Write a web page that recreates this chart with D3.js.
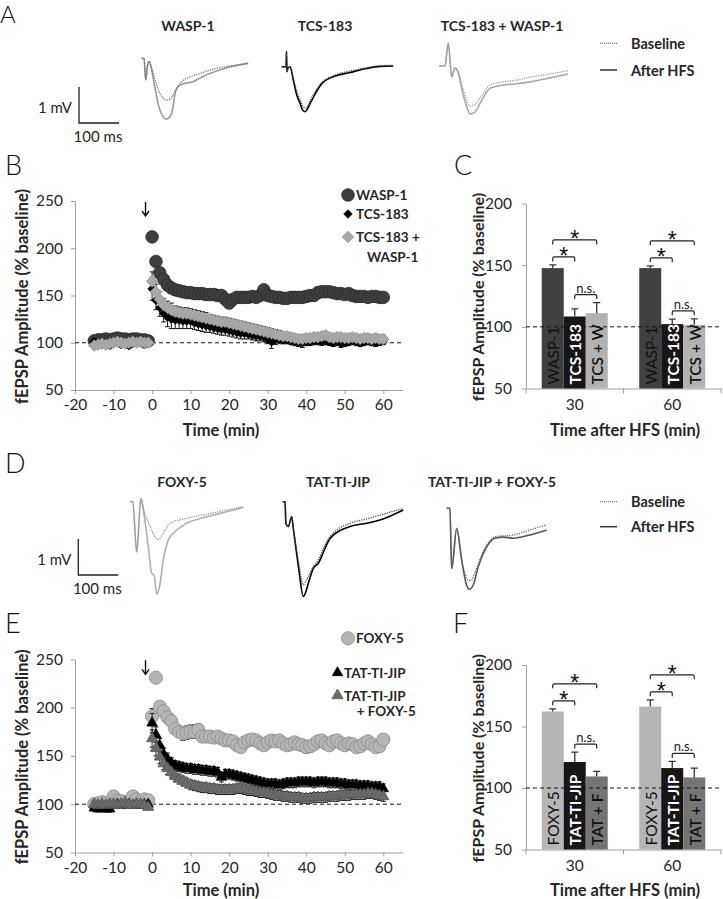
<!DOCTYPE html>
<html><head><meta charset="utf-8">
<script src="https://cdn.jsdelivr.net/npm/d3@7"></script>
<style>
body{margin:0;background:#fff;}
svg{display:block;font-family:Lato,"Open Sans",sans-serif;}
</style></head><body>
<svg id="fig" width="723" height="899"></svg>
<script>
// ---------------- DATA ----------------
// Field-potential traces: [time (ms), voltage (mV)] relative to trace start
const waspBaselineTrace=[[0,0],[5.75,0],[10,-0.6],[14.5,-0.21],[19,-0.09],[23,-0.2],[32,-0.55],[42,-0.9],[52,-1.08],[62,-1.16],[72,-1.13],[82,-0.95],[92,-0.75],[100,-0.65],[120,-0.52],[146,-0.42],[187,-0.28],[230,-0.2],[266,-0.14]];
const waspHfsTrace=[[0,0],[5.75,0],[10,-0.6],[14.5,-0.21],[19,-0.09],[23,-0.22],[32,-0.75],[42,-1.3],[52,-1.6],[62,-1.69],[70,-1.63],[78,-1.38],[83,-1.0],[90,-0.8],[100,-0.72],[112,-0.69],[126,-0.66],[146,-0.55],[166,-0.44],[187,-0.35],[220,-0.24],[266,-0.14]];
const tcsBaselineTrace=[[0,0],[11,0],[12,0.42],[13,-0.14],[15,-0.05],[21,0],[29,-0.33],[38,-0.7],[46,-0.92],[53,-1.1],[60,-1.15],[66,-1.08],[72,-0.93],[87,-0.63],[100,-0.44],[129,-0.25],[171,-0.12],[212,-0.03],[246,0.03],[279,0.04]];
const tcsHfsTrace=[[0,0],[11,0],[12,0.42],[13,-0.14],[15,-0.05],[21,0],[29,-0.37],[38,-0.8],[46,-1.02],[52,-1.2],[58,-1.25],[64,-1.18],[72,-1.0],[87,-0.69],[100,-0.47],[129,-0.28],[171,-0.16],[212,-0.05],[246,0.01],[279,0.02]];
const twBaselineTrace=[[0,0],[14,0],[22.5,0.63],[31,-0.3],[39,-0.06],[47,-0.15],[57,-0.55],[67,-0.9],[77,-1.11],[89,-1.07],[102,-0.89],[127,-0.53],[160,-0.44],[189,-0.4],[227,-0.31],[277,-0.22],[322,-0.13]];
const twHfsTrace=[[0,0],[14,0],[22.5,0.63],[31,-0.3],[39,-0.06],[47,-0.17],[57,-0.67],[67,-1.08],[77,-1.33],[89,-1.28],[102,-1.03],[127,-0.62],[160,-0.53],[189,-0.5],[227,-0.44],[277,-0.33],[322,-0.22]];
const foxyBaselineTrace=[[0,0],[6.75,0],[16.75,-1.39],[27.5,0.09],[33.25,-0.18],[50,-0.69],[62.5,-0.97],[70.75,-1.05],[83.25,-0.88],[100,-0.6],[141.75,-0.46],[191.75,-0.35],[241.75,-0.23],[283.25,-0.14]];
const foxyHfsTrace=[[0,0],[6.75,0],[16.75,-1.39],[27.5,0.09],[33.25,-0.23],[45.75,-1.25],[54.25,-1.99],[60,-2.04],[66.75,-2.56],[73.25,-2.4],[83.25,-1.62],[95.75,-1.06],[108.25,-0.88],[141.75,-0.6],[191.75,-0.42],[241.75,-0.28],[283.25,-0.16]];
const tatBaselineTrace=[[0,0],[5.8,0],[8,-0.6],[14,-0.69],[22.5,-0.42],[26.5,-0.74],[40,-1.7],[51.5,-2.31],[58,-2.2],[64,-2.08],[76.5,-1.81],[89,-1.62],[105.75,-1.2],[118.25,-0.97],[168.25,-0.6],[210,-0.48],[243.25,-0.37],[301.5,-0.19]];
const tatHfsTrace=[[0,0],[5.8,0],[8,-0.6],[14,-0.69],[22.5,-0.42],[26.5,-0.74],[40,-1.85],[51.5,-2.63],[58,-2.5],[64,-2.27],[76.5,-1.85],[89,-1.71],[105.75,-1.3],[118.25,-1.02],[168.25,-0.69],[210,-0.6],[243.25,-0.51],[301.5,-0.23]];
const tfBaselineTrace=[[0,0],[8,0],[12.5,-1.67],[25,-0.56],[37.5,-1.44],[48.25,-1.89],[54,-2.0],[62,-2.0],[70,-1.8],[79,-1.53],[100,-1.02],[120.75,-0.79],[166.5,-0.74],[208.25,-0.6],[250,-0.46]];
const tfHfsTrace=[[0,0],[8,0],[12.5,-1.67],[25,-0.56],[37.5,-1.44],[48.25,-2.08],[56.5,-2.25],[66.5,-2.13],[79,-1.62],[100,-1.07],[120.75,-0.83],[141.5,-0.8],[166.5,-0.83],[208.25,-0.74],[250,-0.6]];

// Time axes (min)
const tBase=d3.range(-15,0);
const tPost=d3.range(0,61);
const timeTicks=[-20,-10,0,10,20,30,40,50,60];
const ampTicks=[50,100,150,200,250];
const barTicks=[50,100,150,200];
const hfsTime=-1.7;

// Panel B (% baseline)
const waspBase=[102,103,103,104,103,104,105,104,104,103,104,104,103,103,102];
const waspPost=[212,186,174,167,161,158,156,155,154,153, 153,152,152,152,151,151,151,150,150,146, 142,146,148,148,148,148,149,148,150,156, 150,149,148,148,147,147,148,148,148,148, 149,150,150,153,154,154,154,153,152,152, 151,152,150,149,149,149,148,149,149,148, 148];
const tcsBase=[101,99,98,100,97,99,101,98,100,97,99,101,100,98,100];
const tcsBaseErr=[3,3,3,3,3,3,3,3,3,3,3,3,3,3,3];
const tcsPost=[157,145,137,131,127,125,124,124,123,123, 123,121,120,119,118,117,116,115,114,114, 113,112,111,110,110,109,108,107,107,106, 104,101,103,104,103,103,102,101,100,100, 101,101,102,102,101,102,101,100,101,99, 100,101,102,101,100,101,102,101,100,101, 102];
const tcsErr=[12,10,9,9,10,10,9,9,8,8, 8,7,7,7,7,6,6,6,6,6, 6,6,6,6,6,5,5,5,5,5, 5,7,5,5,4,4,4,4,4,5, 4,4,4,4,4,4,4,4,4,4, 4,4,4,4,4,4,4,4,4,4, 4];
const twBase=[97,98,99,98,99,100,101,100,99,100,101,100,101,100,100];
const twBaseErr=[3,3,3,3,3,3,3,3,3,3,3,3,3,3,3];
const twPost=[165,154,146,140,137,135,133,132,131,131, 130,129,128,127,126,125,124,123,122,122, 121,120,119,118,117,116,115,114,113,112, 111,110,109,108,107,107,106,105,104,104, 105,105,106,106,107,108,106,105,106,106, 105,105,106,105,104,105,105,104,105,104, 104];
const twErr=[10,8,8,7,7,7,6,6,6,6, 6,6,6,6,6,5,5,5,5,5, 5,5,5,5,5,5,5,5,5,5, 5,5,5,5,4,4,4,4,4,4, 4,4,4,4,4,4,4,4,4,4, 4,4,4,4,4,4,4,4,4,4, 4];

// Panel C
const barCats=["30","60"];
const cNames=["WASP-1","TCS-183","TCS + W"];
const cWaspMean=[147.6,147.6], cWaspErr=[2.6,1.9];
const cTcsMean=[108.4,102.2], cTcsErr=[6.2,4.0];
const cTwMean=[111.1,101.6], cTwErr=[8.6,4.9];
const cSig=[["30",0,1,"*"],["30",0,2,"*"],["30",1,2,"n.s."],["60",0,1,"*"],["60",0,2,"*"],["60",1,2,"n.s."]];

// Panel E
const foxyBase=[100,101,102,101,100,108,104,103,102,103,108,105,103,105,104];
const foxyBaseErr=[4,4,4,4,4,4,4,4,4,4,4,4,4,4,4];
const foxyPost=[191,231,201,196,190,186,178,175,173,174, 175,175,177,170,170,170,169,170,168,166, 166,165,161,159,164,166,167,166,163,161, 164,166,165,166,163,161,162,164,162,161, 159,160,162,165,166,163,161,165,166,163, 161,163,162,159,160,163,165,162,159,160, 167];
const foxyErr=[8,5,5,5,5,5,6,6,7,7, 7,7,6,6,5,5,5,5,6,5, 5,5,5,5,5,5,5,5,5,5, 5,5,5,5,5,5,5,5,5,6, 6,6,5,5,5,5,5,5,5,5, 5,5,5,5,5,5,5,5,5,5, 5];
const tatBase=[96,95,96,95,95,99,100,99,100,100,99,100,99,100,100];
const tatBaseErr=[3,3,3,3,3,3,3,3,3,3,3,3,3,3,3];
const tatPost=[184,172,161,152,147,143,140,139,138,137, 137,136,136,135,135,134,134,133,128,131, 131,130,129,128,127,126,125,124,123,122, 121,121,121,120,121,122,122,122,123,123, 123,123,122,123,123,123,122,122,122,121, 121,120,120,120,119,119,119,118,118,118, 116];
const tatErr=[10,8,7,6,6,5,5,5,5,5, 5,5,5,5,5,5,5,5,5,5, 5,5,5,5,5,5,5,5,5,5, 5,5,5,5,5,5,5,5,5,5, 5,5,5,5,5,5,5,5,5,5, 5,5,5,5,5,5,5,5,5,5, 5];
const tfBase=[100,99,100,99,100,100,99,100,101,100,99,100,100,99,97];
const tfBaseErr=[3,3,3,3,3,3,3,3,3,3,3,3,3,3,3];
const tfPost=[168,158,149,142,137,133,129,126,124,122, 120,119,118,117,117,116,116,115,115,115, 115,115,116,116,115,114,114,113,112,112, 111,110,109,109,108,108,107,107,107,106, 106,106,107,107,107,107,108,108,108,109, 109,109,110,110,110,110,111,111,110,109, 108];
const tfErr=[9,8,7,6,6,5,5,5,5,5, 5,5,5,5,5,5,5,5,5,5, 5,5,5,5,5,5,5,5,5,5, 5,5,5,5,5,5,5,5,5,5, 5,5,5,5,5,5,5,5,5,5, 5,5,5,5,5,5,5,5,5,5, 5];

// Panel F
const fNames=["FOXY-5","TAT-TI-JIP","TAT + F"];
const fFoxyMean=[162.2,166.2], fFoxyErr=[2.2,5.5];
const fTatMean=[121.1,116.2], fTatErr=[8.1,5.4];
const fTfMean=[109.4,108.6], fTfErr=[4.1,7.6];
const fSig=[["30",0,1,"*"],["30",0,2,"*"],["30",1,2,"n.s."],["60",0,1,"*"],["60",0,2,"*"],["60",1,2,"n.s."]];

// ---------------- DRAWING ----------------
const svg=d3.select("#fig");
const FONT="Lato, 'Open Sans', sans-serif";
const AXIS="#a0a0a0", TXT="#262626";
const TITLE_SIZE=16.5, TICK_SIZE=15.5;

const defs=svg.append("defs");
function dotPattern(id,bg,dot){
  const p=defs.append("pattern").attr("id",id).attr("patternUnits","userSpaceOnUse").attr("width",3).attr("height",3);
  p.append("rect").attr("width",3).attr("height",3).attr("fill",bg);
  p.append("circle").attr("cx",1).attr("cy",1).attr("r",0.55).attr("fill",dot);
  p.append("circle").attr("cx",2.5).attr("cy",2.5).attr("r",0.4).attr("fill",dot);
}
dotPattern("dotBlack","#0d0d0d","#4a4a4a");
dotPattern("dotLight","#b9b9b9","#8f8f8f");
dotPattern("dotDark","#6e6e6e","#9a9a9a");

// panel letters
[["A",0,23],["B",5,175],["C",454,175],["D",5,473],["E",5,633],["F",453,633]].forEach(([t,x,y])=>{
  svg.append("text").attr("x",x).attr("y",y).text(t).attr("font-size",t==="A"?24:27).attr("font-weight",300).attr("fill","#111").style("font-family",FONT);
});

// ---- traces ----
const msScale=d3.scaleLinear().domain([0,100]).range([0,40]);
const mvScale=d3.scaleLinear().domain([0,-1]).range([0,36]);
const traceLine=d3.line().x(d=>msScale(d[0])).y(d=>mvScale(d[1])).curve(d3.curveMonotoneX);
function trace(ox,oy,data,color,dotted){
  svg.append("path").attr("transform",`translate(${ox},${oy})`).attr("d",traceLine(data))
    .attr("fill","none").attr("stroke",color).attr("stroke-width",dotted?1.3:1.6)
    .attr("stroke-dasharray",dotted?"1.2,1.2":null).attr("stroke-linejoin","round");
}
function traceTitle(x,y,t){svg.append("text").attr("x",x).attr("y",y).attr("text-anchor","middle").attr("dominant-baseline","central")
  .attr("font-size",14).attr("font-weight",700).attr("fill",TXT).text(t);}
function scaleBar(x,yTop){
  const h=mvScale(-1), w=msScale(100);
  svg.append("path").attr("d",`M${x},${yTop}V${yTop+h}H${x+w}`).attr("fill","none").attr("stroke","#222").attr("stroke-width",1.3);
  svg.append("text").attr("x",x-7).attr("y",yTop+h/2+2).attr("text-anchor","end").attr("dominant-baseline","central").attr("font-size",15).attr("fill",TXT).text("1 mV");
  svg.append("text").attr("x",x+w/2-1).attr("y",yTop+h+13).attr("text-anchor","middle").attr("dominant-baseline","central").attr("font-size",15).attr("fill",TXT).text("100 ms");
}
function traceLegend(y1,y2){
  svg.append("line").attr("x1",600).attr("x2",617).attr("y1",y1).attr("y2",y1).attr("stroke","#777").attr("stroke-width",1.2).attr("stroke-dasharray","1,1");
  svg.append("line").attr("x1",600).attr("x2",617).attr("y1",y2).attr("y2",y2).attr("stroke","#333").attr("stroke-width",1.5);
  svg.append("text").attr("x",631).attr("y",y1).attr("dominant-baseline","central").attr("font-size",14.5).attr("font-weight",700).attr("fill",TXT).text("Baseline");
  svg.append("text").attr("x",631).attr("y",y2).attr("dominant-baseline","central").attr("font-size",14.5).attr("font-weight",700).attr("fill",TXT).text("After HFS");
}
// Panel A
traceTitle(188,25,"WASP-1"); traceTitle(325,25,"TCS-183"); traceTitle(502,25,"TCS-183 + WASP-1");
trace(141.7,58.3,waspHfsTrace,"#9a9a9a",false);
trace(141.7,58.3,waspBaselineTrace,"#6f6f6f",true);
trace(281.7,66.7,tcsHfsTrace,"#000",false);
trace(281.7,66.7,tcsBaselineTrace,"#444",true);
trace(439.3,66,twHfsTrace,"#a8a8a8",false);
trace(439.3,66,twBaselineTrace,"#9a9a9a",true);
scaleBar(79,87);
traceLegend(43.3,70);
// Panel D
traceTitle(182,481.7,"FOXY-5"); traceTitle(338,481.7,"TAT-TI-JIP"); traceTitle(492,481.7,"TAT-TI-JIP + FOXY-5");
trace(130,501.7,foxyHfsTrace,"#b0b0b0",false);
trace(130,501.7,foxyBaselineTrace,"#8f8f8f",true);
trace(282.7,501.7,tatHfsTrace,"#000",false);
trace(282.7,501.7,tatBaselineTrace,"#444",true);
trace(446.7,508.3,tfHfsTrace,"#555",false);
trace(446.7,508.3,tfBaselineTrace,"#666",true);
scaleBar(78.3,539);
traceLegend(501.7,526.7);

// ---- markers ----
function markerPath(type,size){
  if(type==="circle") return d3.symbol(d3.symbolCircle,Math.PI*size*size)();
  if(type==="diamond") return `M0,${-size}L${size},0L0,${size}L${-size},0Z`;
  if(type==="triangle"){const s=size*2;return d3.symbol(d3.symbolTriangle,0.433*s*s)();}
}
function styleAxis(g){
  g.selectAll("path,line").attr("stroke",AXIS).attr("stroke-width",1);
  g.selectAll("text").attr("font-size",TICK_SIZE).attr("fill",TXT).style("font-family",FONT);
}

function timePanel(o){
  const x=d3.scaleLinear().domain([-20,65]).range([75,402.6]);
  const y=d3.scaleLinear().domain([50,250]).range([o.yBottom,o.yTop]);
  const g=svg.append("g");
  styleAxis(g.append("g").attr("transform","translate(75,0)").call(d3.axisLeft(y).tickValues(ampTicks).tickSize(4).tickSizeOuter(0).tickPadding(8)));
  styleAxis(g.append("g").attr("transform",`translate(0,${o.yBottom})`).call(d3.axisBottom(x).tickValues(timeTicks).tickSize(4).tickSizeOuter(0).tickPadding(5).tickFormat(d=>String(d))));
  g.append("line").attr("x1",x(-20)).attr("x2",x(65)).attr("y1",y(100)).attr("y2",y(100)).attr("stroke","#111").attr("stroke-width",1).attr("stroke-dasharray","4,3");
  const ax=x(hfsTime), a0=o.yTop+1, a1=o.yTop+15;
  g.append("path").attr("d",`M${ax},${a0}V${a1}M${ax-3.5},${a1-5}L${ax},${a1}L${ax+3.5},${a1-5}`).attr("fill","none").attr("stroke","#111").attr("stroke-width",1.4);
  o.series.forEach(s=>{
    const pts=[];
    tBase.forEach((t,i)=>pts.push({t,v:s.base[i],e:s.baseErr?s.baseErr[i]:0}));
    tPost.forEach((t,i)=>pts.push({t,v:s.post[i],e:s.err?s.err[i]:0}));
    const sg=g.append("g");
    if(s.err){
      sg.selectAll("path.eb").data(pts).join("path").attr("class","eb")
        .attr("d",d=>{const X=x(d.t),y1=y(d.v-d.e),y2=y(d.v+d.e);return `M${X},${y1}V${y2}M${X-2.5},${y1}H${X+2.5}M${X-2.5},${y2}H${X+2.5}`;})
        .attr("stroke","#1a1a1a").attr("stroke-width",1).attr("fill","none");
    }
    sg.selectAll("path.mk").data(pts).join("path").attr("class","mk")
      .attr("transform",d=>`translate(${x(d.t)},${y(d.v)})`).attr("d",markerPath(s.type,s.size))
      .attr("fill",s.fill).attr("stroke",s.stroke).attr("stroke-width",0.8);
  });
  o.legend.forEach(l=>{
    if(l.marker){const s=l.marker;
      g.append("path").attr("transform",`translate(${l.mx},${l.y})`).attr("d",markerPath(s.type,s.size)).attr("fill",s.fill).attr("stroke",s.stroke).attr("stroke-width",0.8);}
    g.append("text").attr("x",l.x).attr("y",l.y).attr("dominant-baseline","central").attr("font-size",13.5).attr("font-weight",700).attr("fill",TXT).text(l.text);
  });
  g.append("text").attr("transform",`translate(21.5,${(o.yTop+o.yBottom)/2+1}) rotate(-90)`).attr("text-anchor","middle").attr("dominant-baseline","central")
    .attr("font-size",TITLE_SIZE).attr("font-weight",700).attr("fill",TXT).text("fEPSP Amplitude (% baseline)");
  g.append("text").attr("x",221).attr("y",o.xTitleY).attr("text-anchor","middle").attr("dominant-baseline","central")
    .attr("font-size",TITLE_SIZE).attr("font-weight",700).attr("fill",TXT).text("Time (min)");
}

const mWasp={type:"circle",size:6.3,fill:"#3e3e3e",stroke:"#2b2b2b"};
const mTcs={type:"diamond",size:4.3,fill:"#000",stroke:"#000"};
const mTw={type:"diamond",size:5.8,fill:"#a9a9a9",stroke:"#9a9a9a"};
const mFoxy={type:"circle",size:6.6,fill:"#b5b5b5",stroke:"#8a8a8a"};
const mTat={type:"triangle",size:5.2,fill:"#000",stroke:"#000"};
const mTf={type:"triangle",size:5.6,fill:"#6b6b6b",stroke:"#555"};

timePanel({yTop:201,yBottom:390,xTitleY:430,
  series:[
    Object.assign({base:waspBase,post:waspPost},mWasp),
    Object.assign({base:tcsBase,baseErr:tcsBaseErr,post:tcsPost,err:tcsErr},mTcs),
    Object.assign({base:twBase,baseErr:twBaseErr,post:twPost,err:twErr},mTw)
  ],
  legend:[
    {marker:mWasp,mx:348,x:356,y:195,text:"WASP-1"},
    {marker:mTcs,mx:348,x:356,y:214,text:"TCS-183"},
    {marker:mTw,mx:348,x:356,y:237,text:"TCS-183 +"},
    {x:367,y:257,text:"WASP-1"}
  ]});
timePanel({yTop:659.3,yBottom:852.5,xTitleY:889.5,
  series:[
    Object.assign({base:foxyBase,baseErr:foxyBaseErr,post:foxyPost,err:foxyErr},mFoxy),
    Object.assign({base:tatBase,baseErr:tatBaseErr,post:tatPost,err:tatErr},mTat),
    Object.assign({base:tfBase,baseErr:tfBaseErr,post:tfPost,err:tfErr},mTf)
  ],
  legend:[
    {marker:mFoxy,mx:348,x:356,y:638.3,text:"FOXY-5"},
    {marker:mTat,mx:337.5,x:344,y:672.7,text:"TAT-TI-JIP"},
    {marker:mTf,mx:337.5,x:344,y:695.5,text:"TAT-TI-JIP"},
    {x:356.7,y:711,text:"+ FOXY-5"}
  ]});

// ---- bar panels ----
function barPanel(o){
  const x0=d3.scaleBand().domain(barCats).range([526,721]).paddingInner(0).paddingOuter(0);
  const x1=d3.scaleBand().domain([0,1,2]).range([0,x0.bandwidth()]).paddingInner(0).paddingOuter(0.716);
  const y=d3.scaleLinear().domain([50,200]).range([o.yBottom,o.yTop]);
  const g=svg.append("g");
  styleAxis(g.append("g").attr("transform","translate(526,0)").call(d3.axisLeft(y).tickValues(barTicks).tickSize(4).tickSizeOuter(0).tickPadding(10)));
  const xa=g.append("g").attr("transform",`translate(0,${o.yBottom})`).call(d3.axisBottom(x0).tickSize(0).tickSizeOuter(0).tickPadding(10));
  styleAxis(xa);
  xa.selectAll(".bnd").data([526,526+x0.bandwidth(),721]).join("line").attr("class","bnd").attr("x1",d=>d).attr("x2",d=>d).attr("y1",0).attr("y2",5).attr("stroke",AXIS);
  const bars=[];
  o.series.forEach((s,si)=>barCats.forEach((c,ci)=>bars.push({c,si,v:s.mean[ci],e:s.err[ci],s})));
  g.selectAll("rect.bar").data(bars).join("rect").attr("class","bar")
    .attr("x",d=>x0(d.c)+x1(d.si)).attr("width",x1.bandwidth()).attr("y",d=>y(d.v)).attr("height",d=>y(50)-y(d.v)).attr("fill",d=>d.s.fill);
  g.selectAll("path.eb").data(bars).join("path").attr("class","eb")
    .attr("d",d=>{const X=x0(d.c)+x1(d.si)+x1.bandwidth()/2;return `M${X},${y(d.v)}V${y(d.v+d.e)}M${X-3.5},${y(d.v+d.e)}H${X+3.5}`;})
    .attr("stroke","#333").attr("stroke-width",1.3).attr("fill","none");
  g.append("line").attr("x1",526).attr("x2",722).attr("y1",y(100)).attr("y2",y(100)).attr("stroke","#111").attr("stroke-dasharray","4,3");
  g.selectAll("text.bl").data(bars).join("text").attr("class","bl")
    .attr("transform",d=>`translate(${x0(d.c)+x1(d.si)+x1.bandwidth()/2+0.5},${y(50)-4}) rotate(-90)`)
    .attr("dominant-baseline","central").attr("font-size",15.5).attr("font-weight",d=>d.s.weight).attr("fill",d=>d.s.textColor).text(d=>d.s.name);
  o.sig.forEach(([c,a,b,lab])=>{
    const xa_=x0(c)+x1(a)+x1.bandwidth()/2, xb=x0(c)+x1(b)+x1.bandwidth()/2;
    const top=d3.min(bars.filter(d=>d.c===c&&d.si>=a&&d.si<=b),d=>y(d.v+d.e));
    const by=top-8-(b-a-1)*17;
    g.append("path").attr("d",`M${xa_},${by+4.5}V${by+1.5}Q${xa_},${by} ${xa_+1.5},${by}H${xb-1.5}Q${xb},${by} ${xb},${by+1.5}V${by+4.5}`)
      .attr("fill","none").attr("stroke","#222").attr("stroke-width",1.2);
    if(lab==="*") g.append("text").attr("x",(xa_+xb)/2).attr("y",by+7).attr("text-anchor","middle").attr("font-size",23).style("font-family","'Liberation Sans', Arial, sans-serif").attr("fill","#111").text("*");
    else g.append("text").attr("x",(xa_+xb)/2).attr("y",by-2).attr("text-anchor","middle").attr("font-size",13).attr("fill","#222").text(lab);
  });
  g.append("text").attr("transform",`translate(477,${(o.yTop+o.yBottom)/2+1}) rotate(-90)`).attr("text-anchor","middle").attr("dominant-baseline","central")
    .attr("font-size",TITLE_SIZE-0.5).attr("font-weight",700).attr("fill",TXT).text("fEPSP Amplitude (% baseline)");
  g.append("text").attr("x",625).attr("y",o.xTitleY).attr("text-anchor","middle").attr("dominant-baseline","central")
    .attr("font-size",TITLE_SIZE).attr("font-weight",700).attr("fill",TXT).text("Time after HFS (min)");
}
barPanel({yTop:203.5,yBottom:388.5,xTitleY:430,sig:cSig,series:[
  {name:cNames[0],mean:cWaspMean,err:cWaspErr,fill:"#404040",textColor:"#111",weight:400},
  {name:cNames[1],mean:cTcsMean,err:cTcsErr,fill:"url(#dotBlack)",textColor:"#fff",weight:700},
  {name:cNames[2],mean:cTwMean,err:cTwErr,fill:"url(#dotLight)",textColor:"#111",weight:600}]});
barPanel({yTop:665,yBottom:849.5,xTitleY:890,sig:fSig,series:[
  {name:fNames[0],mean:fFoxyMean,err:fFoxyErr,fill:"#b5b5b5",textColor:"#111",weight:400},
  {name:fNames[1],mean:fTatMean,err:fTatErr,fill:"url(#dotBlack)",textColor:"#fff",weight:700},
  {name:fNames[2],mean:fTfMean,err:fTfErr,fill:"url(#dotDark)",textColor:"#111",weight:600}]});
</script>
</body></html>
